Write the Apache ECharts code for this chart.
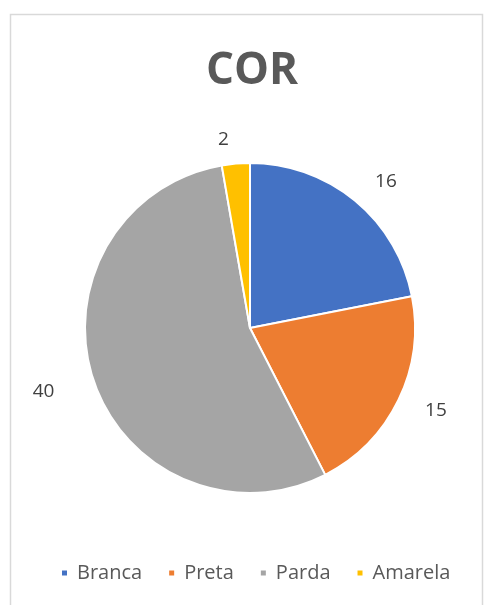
<!DOCTYPE html>
<html>
<head>
<meta charset="utf-8">
<script src="https://cdn.jsdelivr.net/npm/echarts@6/dist/echarts.min.js"></script>
<style>
html,body{margin:0;padding:0;background:#fff;}
#chart{width:484px;height:605px;}
</style>
</head>
<body>
<div id="chart"></div>
<script>
const titleText = 'COR';
const categories = ['Branca', 'Preta', 'Parda', 'Amarela'];
const values = [16, 15, 40, 2];
const colors = ['#4472C4', '#ED7D31', '#A5A5A5', '#FFC000'];
const labelLineLengths = [24, 24, 36, 24];

const chart = echarts.init(document.getElementById('chart'));
chart.setOption({
  backgroundColor: '#ffffff',
  animation: false,
  color: colors,
  graphic: [{
    type: 'rect',
    shape: { x: 10.5, y: 14.5, width: 472, height: 620 },
    style: { fill: 'none', stroke: '#d9d9d9', lineWidth: 1.5 },
    silent: true
  }],
  title: {
    text: titleText,
    left: 201,
    top: 44,
    textStyle: { fontFamily: 'Open Sans', fontWeight: 'bold', fontSize: 44, color: '#595959' }
  },
  legend: {
    bottom: 17,
    left: 55,
    icon: 'rect',
    itemWidth: 7,
    itemHeight: 7,
    itemGap: 25,
    textStyle: { fontFamily: 'Open Sans', fontSize: 20, color: '#595959', padding: [0, 0, 0, 4] },
    data: categories
  },
  series: [{
    type: 'pie',
    center: [250, 328],
    radius: 165,
    startAngle: 90,
    clockwise: true,
    avoidLabelOverlap: false,
    itemStyle: { borderColor: '#ffffff', borderWidth: 2 },
    label: {
      show: true,
      position: 'outside',
      formatter: '{c}',
      fontFamily: 'Open Sans',
      fontSize: 19,
      color: '#404040'
    },
    labelLine: { show: false, length: 24, length2: 0 },
    data: categories.map((c, i) => ({
      name: c,
      value: values[i],
      labelLine: { show: false, length: labelLineLengths[i], length2: 0 }
    }))
  }]
});
</script>
</body>
</html>
